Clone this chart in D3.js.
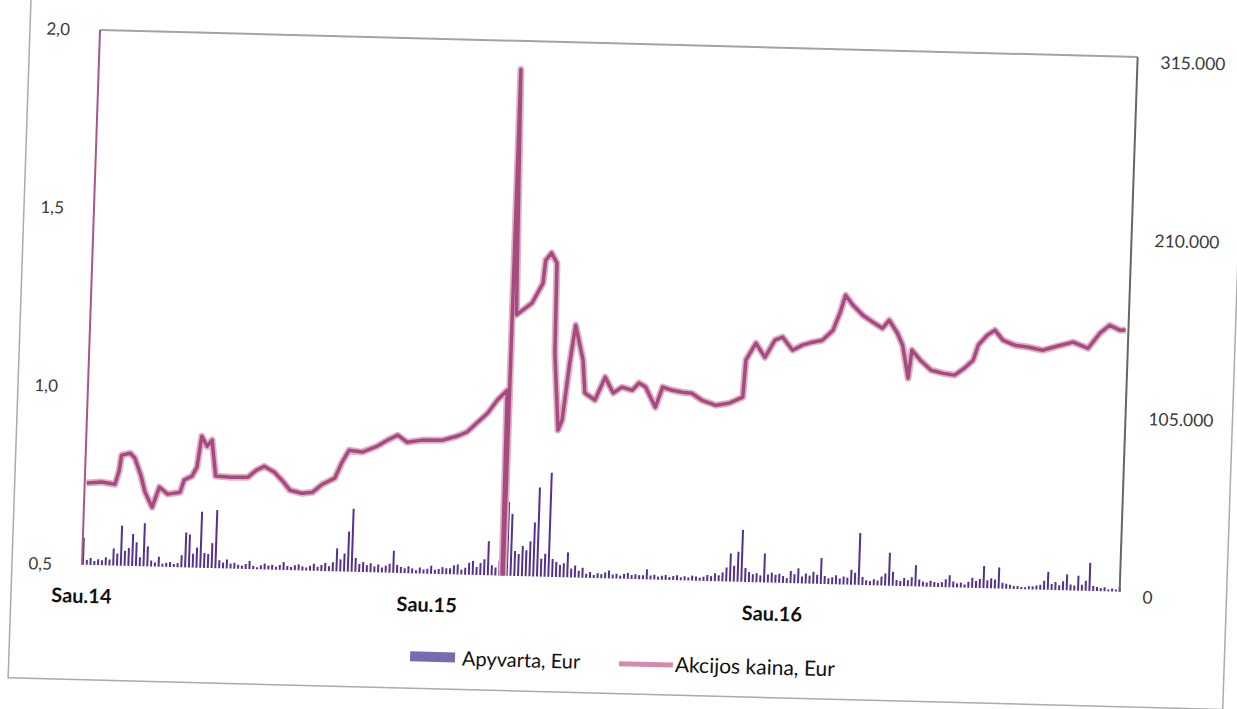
<!DOCTYPE html>
<html><head><meta charset="utf-8">
<script src="https://cdn.jsdelivr.net/npm/d3@7"></script>
<style>body{margin:0;background:#fff}svg{display:block}</style>
</head><body>
<svg id="chart" width="1237" height="709"></svg>
<script>
// ---------- DATA ----------
const seriesNames = ["Apyvarta, Eur", "Akcijos kaina, Eur"];

const priceDates = [
"2014-01-03","2014-01-19","2014-02-02","2014-02-06","2014-02-08","2014-02-17","2014-02-22","2014-03-01","2014-03-06","2014-03-14",
"2014-03-21","2014-03-30","2014-04-12","2014-04-16","2014-04-24","2014-04-29","2014-05-03","2014-05-09","2014-05-14","2014-05-19",
"2014-06-05","2014-06-22","2014-07-01","2014-07-09","2014-07-20","2014-07-29","2014-08-06","2014-08-19","2014-08-30","2014-09-09",
"2014-09-22","2014-09-29","2014-10-06","2014-10-20","2014-11-05","2014-11-15","2014-11-26","2014-12-06","2014-12-22","2015-01-12",
"2015-01-28","2015-02-07","2015-02-17","2015-02-28","2015-03-10","2015-03-20","2015-03-22","2015-03-23","2015-03-27","2015-04-12",
"2015-04-23","2015-04-25","2015-05-01","2015-05-07","2015-05-08","2015-05-14","2015-05-18","2015-05-24","2015-05-29","2015-06-07",
"2015-06-10","2015-06-21","2015-07-01","2015-07-10","2015-07-19","2015-07-30","2015-08-06","2015-08-13","2015-08-24","2015-08-31",
"2015-09-10","2015-09-21","2015-10-01","2015-10-12","2015-10-27","2015-11-10","2015-11-24","2015-11-26","2015-12-06","2015-12-16",
"2015-12-26","2016-01-03","2016-01-14","2016-01-24","2016-02-04","2016-02-14","2016-02-25","2016-03-03","2016-03-08","2016-03-16",
"2016-03-27","2016-04-07","2016-04-17","2016-04-24","2016-05-03","2016-05-09","2016-05-16","2016-05-19","2016-05-28","2016-06-09",
"2016-06-22","2016-07-04","2016-07-14","2016-07-23","2016-07-28","2016-08-06","2016-08-14","2016-08-23","2016-09-05","2016-09-18",
"2016-10-04","2016-10-20","2016-11-05","2016-11-21","2016-12-03","2016-12-13","2016-12-24","2016-12-30"];

const priceValues = [
0.729,0.733,0.728,0.767,0.810,0.816,0.803,0.755,0.708,0.666,
0.723,0.704,0.710,0.745,0.756,0.782,0.869,0.841,0.859,0.758,
0.756,0.757,0.778,0.789,0.773,0.749,0.724,0.716,0.720,0.743,
0.761,0.806,0.840,0.836,0.854,0.871,0.886,0.867,0.874,0.875,
0.888,0.900,0.926,0.954,0.992,1.020,0,1.920,1.232,1.266,
1.323,1.387,1.408,1.380,1.128,0.912,0.940,1.100,1.207,1.110,
1.018,0.999,1.064,1.020,1.037,1.029,1.050,1.039,0.983,1.040,
1.032,1.027,1.025,1.006,0.993,1.000,1.018,1.122,1.170,1.131,
1.180,1.189,1.153,1.168,1.177,1.183,1.212,1.263,1.311,1.284,
1.256,1.237,1.221,1.244,1.209,1.175,1.083,1.162,1.135,1.107,
1.099,1.095,1.115,1.138,1.181,1.209,1.224,1.196,1.183,1.179,
1.171,1.184,1.196,1.180,1.223,1.246,1.233,1.234];

// turnover, one bar every 4 days from the start date
const volumeStart = "2014-01-02";
const volumeStepDays = 4;
const volumeValues = [
15900,2900,4100,2400,3500,2900,4700,3500,10000,7100,23600,
8800,10600,18800,14100,5300,25300,11800,3500,2400,
5900,1800,2400,2900,1800,2400,7100,20600,19400,8200,
11800,33000,8800,8200,14700,34200,4700,3500,5300,2900,
3500,2400,1800,2900,4700,1800,1200,2400,3500,
2400,2900,1800,2900,4700,2400,1800,2900,3500,2400,
1800,2900,4100,2400,3500,4700,2900,5300,13500,7100,
10600,23600,37100,8200,4700,5900,4100,5300,3500,4700,
2900,4100,5300,13000,4700,3500,2900,4100,
2900,1800,3500,2400,2900,4700,2400,2900,4100,3500,3500,
5300,5900,2900,4100,7100,8200,4700,7100,9400,20000,
5900,4700,8800,13000,43600,36500,14700,13000,17700,15300,
20600,31800,52400,10600,13500,61300,10600,8800,
7100,8200,14700,5300,7100,4100,5900,2400,3500,1800,2900,
2400,3500,4700,2400,2900,1800,2900,3500,2400,2900,
2400,2400,5900,2400,2900,1800,2400,2900,1800,2400,
2900,1800,2400,1800,2900,2400,1800,
2400,3500,2900,4700,3500,5300,8200,16500,9400,17700,30600,8200,
5900,4700,5300,4100,17100,4700,5900,4700,5300,4100,
2900,7100,5300,8800,4100,5900,4700,7100,5300,15300,
4700,3500,4100,5300,3500,4700,4100,
8800,7100,30600,4700,2900,2400,3500,2900,5300,7100,19400,8200,
3500,2900,4700,3500,5300,12400,4100,2900,2400,3500,
2900,2400,2900,4700,7100,3500,2400,2900,1800,3500,
5900,4100,5300,13000,4700,5900,
5300,12400,3500,2900,2400,1800,1800,1200,1200,1800,1800,2400,2900,
5300,10600,3500,4700,2900,5300,9400,3500,2900,8800,
3500,5900,16500,2900,2400,1800,2400,1200,1800,1200,2400];

const leftTicks = [0.5, 1.0, 1.5, 2.0];
const leftTickLabels = ["0,5", "1,0", "1,5", "2,0"];
const rightTicks = [0, 105000, 210000, 315000];
const rightTickLabels = ["0", "105.000", "210.000", "315.000"];
const xTickDates = ["2014-01-01", "2015-01-01", "2016-01-01"];
const xTickLabels = ["Sau.14", "Sau.15", "Sau.16"];

// ---------- CHART ----------
const W = 1038, H = 535;
const parse = d3.timeParse("%Y-%m-%d");
const svg = d3.select("#chart");
// the scanned chart is slightly tilted
const g = svg.append("g").attr("transform", "matrix(0.99966,0.026,-0.0337,0.99943,100,30)");

const x = d3.scaleTime().domain([parse("2014-01-01"), parse("2017-01-02")]).range([0, W]);
const yL = d3.scaleLinear().domain([0.5, 2.0]).range([H, 0]);
const yR = d3.scaleLinear().domain([0, 315000]).range([H, 0]);

// outer chart border
g.append("rect").attr("x", -70).attr("y", -90).attr("width", 1215).attr("height", 740)
  .attr("fill", "none").attr("stroke", "#ababab").attr("stroke-width", 1.5);

g.append("clipPath").attr("id", "plotClip").append("rect")
  .attr("x", 0).attr("y", 0).attr("width", W).attr("height", H);

// bars
const v0 = parse(volumeStart);
const volume = volumeValues.map((v, i) => ({date: d3.timeDay.offset(v0, i * volumeStepDays), value: v}));
g.append("g").selectAll("rect").data(volume).join("rect")
  .attr("x", d => x(d.date) - 1).attr("width", 2)
  .attr("y", d => yR(d.value)).attr("height", d => H - yR(d.value))
  .attr("fill", "#55318f");

// price line
const price = priceDates.map((d, i) => ({date: parse(d), value: priceValues[i]}));
const line = d3.line().x(d => x(d.date)).y(d => yL(d.value));
const lg = g.append("g").attr("clip-path", "url(#plotClip)");
lg.append("path").datum(price).attr("d", line).attr("fill", "none")
  .attr("stroke", "#dfb3c6").attr("stroke-width", 7).attr("stroke-linejoin", "round");
lg.append("path").datum(price).attr("d", line).attr("fill", "none")
  .attr("stroke", "#a64a80").attr("stroke-width", 3.5).attr("stroke-linejoin", "round");

// frame lines
g.append("line").attr("x1", 0).attr("y1", 0).attr("x2", W).attr("y2", 0)
  .attr("stroke", "#a3a3a3").attr("stroke-width", 2);
g.append("line").attr("x1", 0).attr("y1", 0).attr("x2", 0).attr("y2", H)
  .attr("stroke", "#a5568a").attr("stroke-width", 2);
g.append("line").attr("x1", W).attr("y1", 0).attr("x2", W).attr("y2", H)
  .attr("stroke", "#666").attr("stroke-width", 2);

// axes
const ax = g.append("g").attr("font-family", "Lato, sans-serif");
const la = ax.append("g").call(d3.axisLeft(yL).tickValues(leftTicks).tickSize(0).tickPadding(30)
  .tickFormat((d, i) => leftTickLabels[i]));
la.select(".domain").remove();
la.selectAll("text").attr("font-size", 17).attr("fill", "#3a3a3a").attr("font-family", "Lato, sans-serif");

const ra = ax.append("g").attr("transform", `translate(${W},0)`)
  .call(d3.axisRight(yR).tickValues(rightTicks).tickSize(0).tickPadding(23)
  .tickFormat((d, i) => rightTickLabels[i]));
ra.select(".domain").remove();
ra.selectAll("text").attr("font-size", 17.5).attr("fill", "#3a3a3a").attr("font-family", "Lato, sans-serif")
  .attr("transform", "translate(0,5)");

const ba = ax.append("g").attr("transform", `translate(0,${H})`)
  .call(d3.axisBottom(x).tickValues(xTickDates.map(parse)).tickSize(0).tickPadding(24)
  .tickFormat((d, i) => xTickLabels[i]));
ba.select(".domain").remove();
ba.selectAll("text").attr("font-size", 20).attr("font-weight", 700).attr("fill", "#111").attr("font-family", "Lato, sans-serif");

// legend
const leg = g.append("g").attr("font-family", "Lato, sans-serif").attr("fill", "#111");
leg.append("rect").attr("x", 331).attr("y", 613).attr("width", 45).attr("height", 10).attr("fill", "#7a6ab0");
leg.append("text").attr("x", 383).attr("y", 626).attr("font-size", 20).text(seriesNames[0]);
leg.append("line").attr("x1", 540).attr("x2", 594).attr("y1", 620).attr("y2", 620)
  .attr("stroke", "#d48aaa").attr("stroke-width", 5);
leg.append("text").attr("x", 596).attr("y", 627).attr("font-size", 21).text(seriesNames[1]);
</script>
</body></html>
